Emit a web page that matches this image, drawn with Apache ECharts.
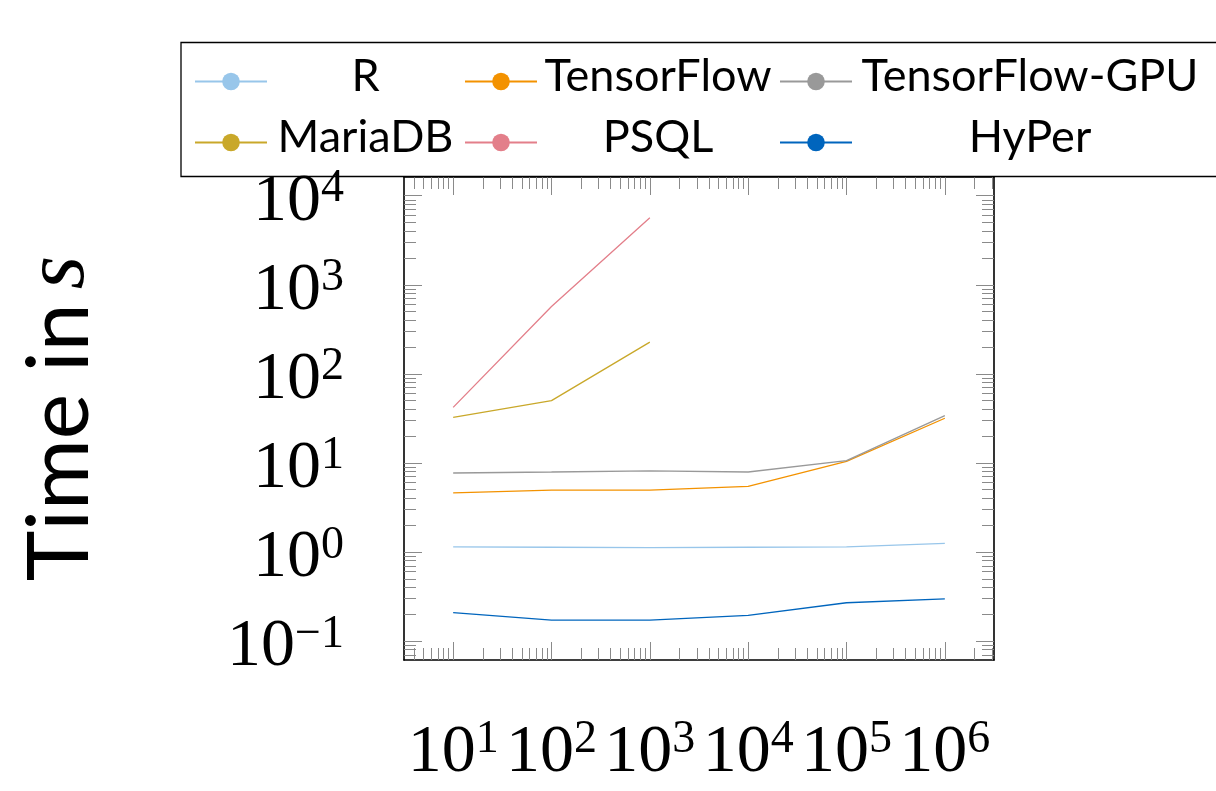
<!DOCTYPE html>
<html>
<head>
<meta charset="utf-8">
<script src="https://cdn.jsdelivr.net/npm/echarts@6/dist/echarts.min.js"></script>
<style>
html,body{margin:0;padding:0;background:#fff}
#chart{width:1216px;height:791px}
</style>
</head>
<body>
<div id="chart"></div>
<script>
// problem size (x) and runtime in seconds (y)
var sizes = [10, 100, 1000, 10000, 100000, 1000000];
var rTime = [1.14, 1.13, 1.12, 1.13, 1.14, 1.25];
var tfTime = [4.6, 4.95, 4.95, 5.45, 10.4, 31.7];
var tfGpuTime = [7.7, 7.9, 8.15, 7.9, 10.6, 33.9];
var mariaTime = [32.5, 50, 227];
var psqlTime = [42, 570, 5650];
var hyperTime = [0.208, 0.172, 0.172, 0.194, 0.269, 0.298];

var seriesNames = ['R', 'TensorFlow', 'TensorFlow-GPU', 'MariaDB', 'PSQL', 'HyPer'];
var seriesColors = ['#98c6ea', '#f39200', '#999999', '#c9a82a', '#e37f8a', '#0065bd'];
var xTicks = [10, 100, 1000, 10000, 100000, 1000000];
var yTicks = [0.1, 1, 10, 100, 1000, 10000];

var xMin = Math.pow(10, 0.5), xMax = Math.pow(10, 6.5);
var yMin = Math.pow(10, -1.213), yMax = Math.pow(10, 4.21);

// minor ticks 2..9 of each decade
function minors(lo, hi) {
  var out = [];
  for (var d = -2; d <= 7; d++) {
    for (var m = 2; m <= 9; m++) {
      var v = m * Math.pow(10, d);
      if (v > lo && v < hi) out.push(v);
    }
  }
  return out;
}
var xMinor = minors(xMin, xMax);
var yMinor = minors(yMin, yMax);

function powLabel(v) {
  var e = Math.round(Math.log10(v));
  return '{b|10}{s|' + (e < 0 ? '\u2212' + (-e) : e) + '}';
}
var powRich = {
  b: {fontFamily: 'Liberation Serif', fontSize: 68, lineHeight: 70, verticalAlign: 'bottom', color: '#000'},
  s: {fontFamily: 'Liberation Serif', fontSize: 46, lineHeight: 33, verticalAlign: 'top', color: '#000'}
};

var frameLine = {show: true, onZero: false, lineStyle: {color: '#000', width: 1.6}};
var tickColor = '#8a8a8a';

function axisSet(dim) {
  var isX = dim === 'x';
  var major = isX ? xTicks : yTicks;
  var minor = isX ? xMinor : yMinor;
  var pos = isX ? ['bottom', 'top'] : ['left', 'right'];
  var base = {type: 'log', min: isX ? xMin : yMin, max: isX ? xMax : yMax, splitLine: {show: false}, minorTick: {show: false}};
  var list = [];
  pos.forEach(function (p, k) {
    list.push(Object.assign({}, base, {
      position: p,
      axisLine: frameLine,
      axisTick: {show: true, inside: true, length: 18, customValues: major, lineStyle: {color: tickColor, width: 1}},
      axisLabel: k === 0 ? {
        show: true, customValues: major, formatter: powLabel, rich: powRich,
        margin: isX ? 46 : 60, padding: [11, 0, 0, 0]
      } : {show: false}
    }));
    list.push(Object.assign({}, base, {
      position: p,
      axisLine: {show: false},
      axisTick: {show: true, inside: true, length: 12, customValues: minor, lineStyle: {color: tickColor, width: 1}},
      axisLabel: {show: false}
    }));
  });
  return list;
}

var yAxes = axisSet('y');
yAxes[0].name = '{a|Time in}{m|s}';
yAxes[0].nameLocation = 'middle';
yAxes[0].nameGap = 300;
yAxes[0].nameTextStyle = {
  rich: {
    a: {fontFamily: 'Lato', fontSize: 86, lineHeight: 88, color: '#000'},
    m: {fontFamily: 'Liberation Serif', fontStyle: 'italic', fontSize: 86, lineHeight: 88, color: '#000', padding: [0, 0, 0, 14]}
  }
};

var lineData = [rTime, tfTime, tfGpuTime, mariaTime, psqlTime, hyperTime];
var series = seriesNames.map(function (name, i) {
  return {
    name: name,
    type: 'line',
    symbol: 'none',
    xAxisIndex: 0,
    yAxisIndex: 0,
    data: lineData[i].map(function (v, j) { return [sizes[j], v]; }),
    lineStyle: {color: seriesColors[i], width: 1.3},
    itemStyle: {color: seriesColors[i]}
  };
});

var colWidth = [187, 232, 346];
var legendRich = {};
colWidth.forEach(function (w, k) {
  legendRich['c' + k] = {
    width: w, align: 'center', fontFamily: 'Lato', fontSize: 45, color: '#000',
    lineHeight: 41, padding: [0, 0, 11, 0]
  };
});

var chart = echarts.init(document.getElementById('chart'));
chart.setOption({
  animation: false,
  backgroundColor: '#fff',
  grid: {left: 404, top: 177, width: 590, height: 483},
  legend: {
    data: seriesNames,
    left: 181, top: 42.5, width: 1010,
    padding: [11, 40, 6, 13],
    itemWidth: 72, itemHeight: 22, itemGap: 5,
    borderColor: '#000', borderWidth: 1.3,
    selectedMode: false,
    formatter: function (name) {
      return '{c' + (seriesNames.indexOf(name) % 3) + '|' + name + '}';
    },
    textStyle: {rich: legendRich}
  },
  xAxis: axisSet('x'),
  yAxis: yAxes,
  series: series
});
</script>
</body>
</html>
